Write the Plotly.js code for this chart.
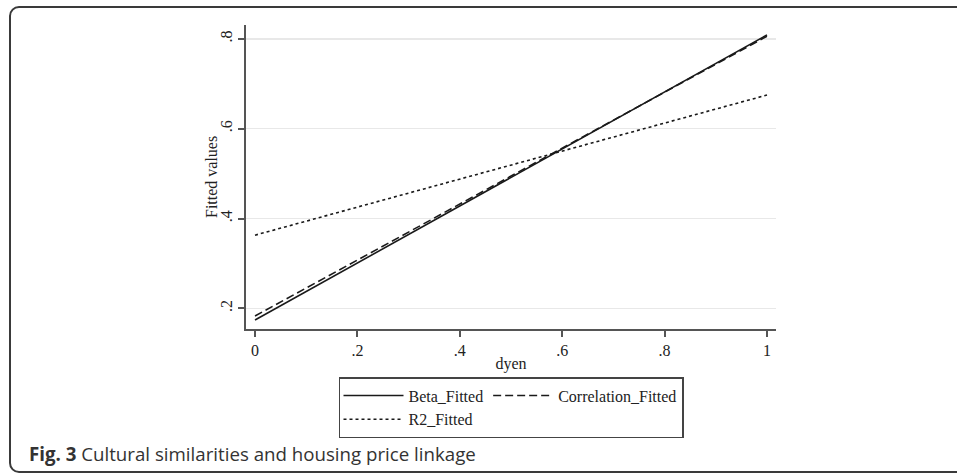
<!DOCTYPE html>
<html>
<head>
<meta charset="utf-8">
<script src="https://cdn.plot.ly/plotly-3.0.1.min.js"></script>
<style>
html,body{margin:0;padding:0;background:#fff;overflow:hidden;width:957px;height:473px;}
#frame{position:absolute;left:9px;top:6px;width:1100px;height:463px;border:2px solid #3a3a3a;border-radius:10px;}
#chart{position:absolute;left:0;top:0;width:957px;height:473px;}
</style>
</head>
<body>
<div id="frame"></div>
<div id="chart"></div>
<script>
// Fitted-line endpoints
const dyen = [0, 1];
const betaFitted = [0.174, 0.809];
const correlationFitted = [0.183, 0.806];
const r2Fitted = [0.363, 0.675];
const yTicks = [0.2, 0.4, 0.6, 0.8];
const yTickLabels = ['.2', '.4', '.6', '.8'];
const xTicks = [0, 0.2, 0.4, 0.6, 0.8, 1];
const xTickLabels = ['0', '.2', '.4', '.6', '.8', '1'];

const serif = 'Liberation Serif, Times New Roman, serif';
const lineColor = '#1a1a1a';

const traces = [
  {x: dyen, y: betaFitted, mode: 'lines', name: 'Beta_Fitted', legendgroup: 'a',
   line: {color: lineColor, width: 1.6, dash: 'solid'}},
  {x: dyen, y: correlationFitted, mode: 'lines', name: 'Correlation_Fitted', legendgroup: 'b',
   line: {color: lineColor, width: 1.6, dash: '8px,4px'}},
  {x: dyen, y: r2Fitted, mode: 'lines', name: 'R2_Fitted', legendgroup: 'a',
   line: {color: lineColor, width: 1.6, dash: 'dot'}}
];

const layout = {
  width: 957, height: 473,
  margin: {l: 246, r: 181, t: 25, b: 144},
  paper_bgcolor: 'rgba(0,0,0,0)',
  plot_bgcolor: 'rgba(0,0,0,0)',
  font: {family: serif, size: 16, color: '#222'},
  showlegend: true,
  xaxis: {
    range: [-0.0176, 1.0176],
    tickvals: xTicks, ticktext: xTickLabels,
    showgrid: false, zeroline: false,
    showline: true, linecolor: '#555', linewidth: 2,
    ticks: 'outside', ticklen: 6, tickwidth: 2, tickcolor: '#555',
    tickfont: {family: serif, size: 16, color: '#222'},
    title: {text: 'dyen', font: {family: serif, size: 16, color: '#222'}, standoff: 0}
  },
  yaxis: {
    range: [0.154, 0.831],
    tickvals: yTicks, ticktext: yTickLabels,
    tickangle: -90,
    showgrid: true, gridcolor: '#e8e8e8', gridwidth: 1.5,
    zeroline: false,
    showline: true, linecolor: '#555', linewidth: 2,
    ticks: 'outside', ticklen: 6, tickwidth: 2, tickcolor: '#555',
    tickfont: {family: serif, size: 16, color: '#222'}
  },
  legend: {
    orientation: 'h',
    traceorder: 'grouped',
    tracegroupgap: 34,
    itemwidth: 60,
    x: 0.5, xanchor: 'center',
    y: -0.158, yanchor: 'top',
    bordercolor: '#444', borderwidth: 1.5,
    bgcolor: '#fff',
    font: {family: serif, size: 16, color: '#222'}
  },
  annotations: [
    {
      xref: 'paper', yref: 'paper',
      x: -0.066, y: 0.5, xanchor: 'center', yanchor: 'middle',
      textangle: -90, showarrow: false,
      text: 'Fitted values',
      font: {family: serif, size: 16, color: '#222'}
    },
    {
      xref: 'paper', yref: 'paper',
      x: -0.413, y: -0.408, xanchor: 'left', yanchor: 'middle',
      showarrow: false,
      text: '<b>Fig. 3</b> Cultural similarities and housing price linkage',
      font: {family: 'Open Sans, Noto Sans, sans-serif', size: 18.7, color: '#333'}
    }
  ]
};

Plotly.newPlot('chart', traces, layout, {displayModeBar: false, staticPlot: true});
</script>
</body>
</html>
